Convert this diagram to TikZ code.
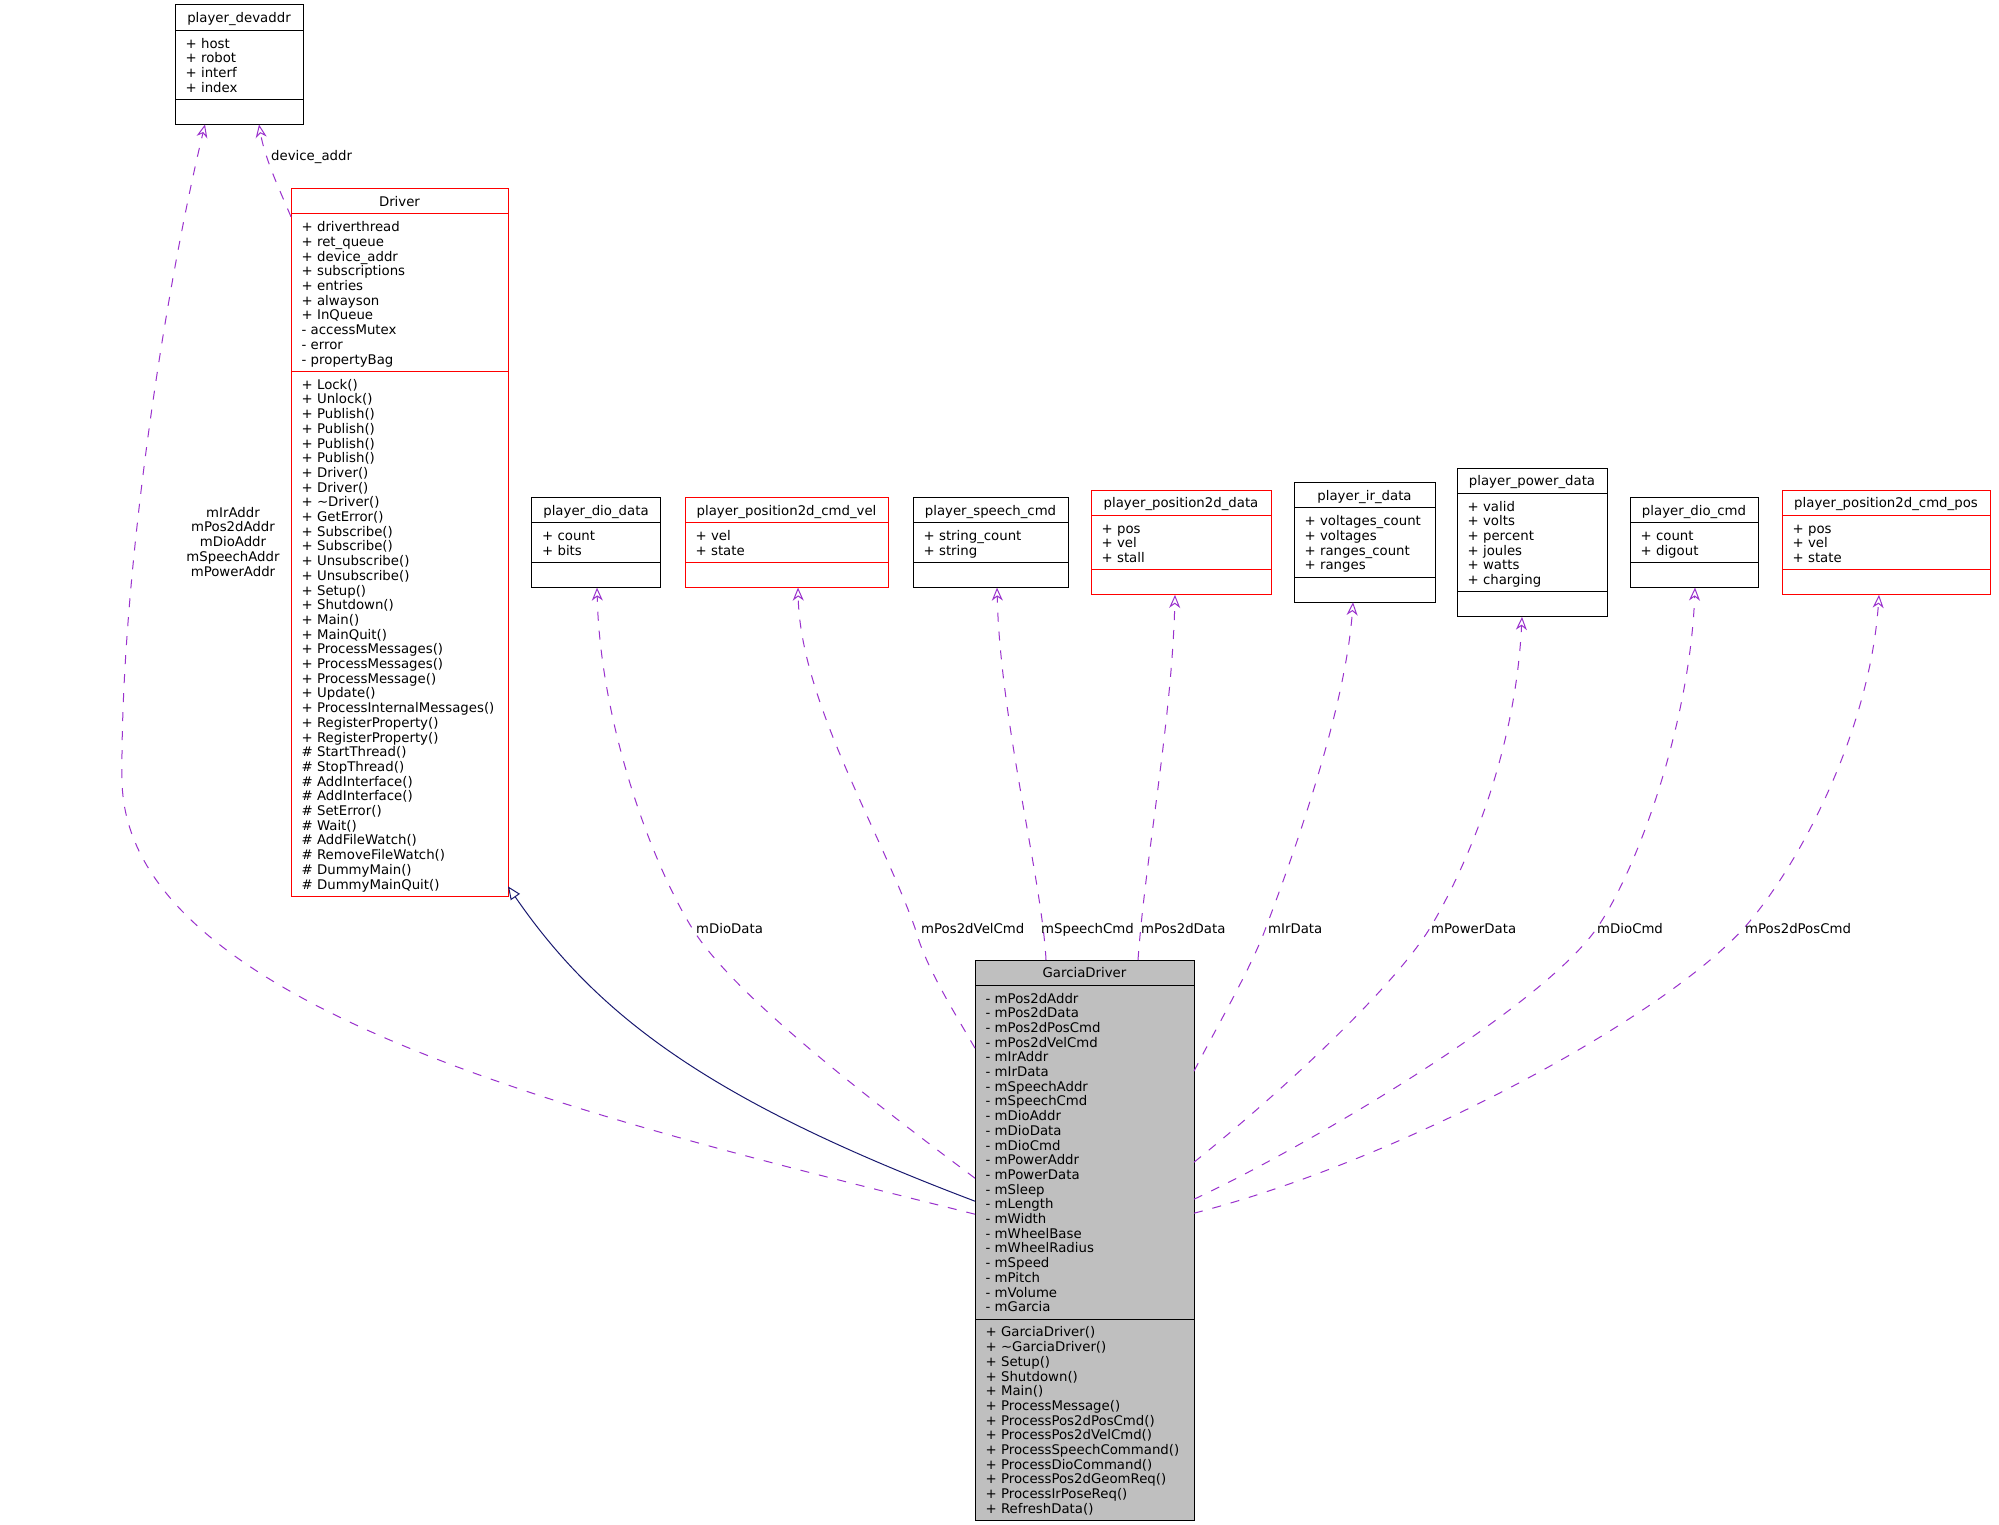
\documentclass[tikz,border=0pt]{standalone}
\usepackage{fontspec}
\setmainfont{DejaVu Sans}
\usetikzlibrary{arrows.meta,calc}
\definecolor{cuse}{HTML}{9A32CD}
\definecolor{cinh}{HTML}{191970}
\definecolor{cgd}{HTML}{BFBFBF}
\definecolor{cred}{HTML}{FF0000}
\newcommand\uln[1]{\rule[-2.1pt]{0pt}{14.7pt}\smash{#1}}
\newcommand\umlbox[8]{%
  \node[sect, hdrsect, #5, minimum width=#3pt, text width=#4pt] (#1-h) at #2 {\uln{#6}};
  \node[sect, #5, minimum width=#3pt, text width=#4pt] (#1-a) at (#1-h.south) {#7};
  \node[sect, #5, minimum width=#3pt, text width=#4pt, minimum height=25pt] (#1-m) at (#1-a.south) {#8};
}
\newcommand\umlfont{\fontsize{13.3}{14.7}\selectfont}
\tikzset{
  txt/.style={font=\umlfont},
  sect/.style={txt, draw, line width=1pt, outer sep=0pt, inner xsep=10.5pt, inner ysep=5.25pt, align=left, anchor=north},
  hdrsect/.style={align=center},
  blk/.style={draw=black},
  redb/.style={draw=cred},
  gdb/.style={draw=black, fill=cgd},
  useedge/.style={draw=cuse, line width=1pt, dash pattern=on 9pt off 10pt, -{Stealth[open, length=13pt, width=11pt, inset=4pt]}},
  inhedge/.style={draw=cinh, line width=1pt, -{Triangle[open, length=13pt, width=11pt]}},
  elabel/.style={txt, inner sep=0pt, anchor=base west},
}
\begin{document}
\begin{tikzpicture}[x=1pt, y=-1pt]
\fill[white] (0,0) rectangle (1999,1525);
\useasboundingbox (0,0) rectangle (1999,1525);

% classes
\umlbox{dev}{(239,5)}{128}{107}{blk}{player\_devaddr}{\uln{+ host}\\\uln{+ robot}\\\uln{+ interf}\\\uln{+ index}}{}
\umlbox{drv}{(399.5,188.65)}{217}{196}{redb}{Driver}{\uln{+ driverthread}\\\uln{+ ret\_queue}\\\uln{+ device\_addr}\\\uln{+ subscriptions}\\\uln{+ entries}\\\uln{+ alwayson}\\\uln{+ InQueue}\\\uln{- accessMutex}\\\uln{- error}\\\uln{- propertyBag}}{\uln{+ Lock()}\\\uln{+ Unlock()}\\\uln{+ Publish()}\\\uln{+ Publish()}\\\uln{+ Publish()}\\\uln{+ Publish()}\\\uln{+ Driver()}\\\uln{+ Driver()}\\\uln{+ \textasciitilde Driver()}\\\uln{+ GetError()}\\\uln{+ Subscribe()}\\\uln{+ Subscribe()}\\\uln{+ Unsubscribe()}\\\uln{+ Unsubscribe()}\\\uln{+ Setup()}\\\uln{+ Shutdown()}\\\uln{+ Main()}\\\uln{+ MainQuit()}\\\uln{+ ProcessMessages()}\\\uln{+ ProcessMessages()}\\\uln{+ ProcessMessage()}\\\uln{+ Update()}\\\uln{+ ProcessInternalMessages()}\\\uln{+ RegisterProperty()}\\\uln{+ RegisterProperty()}\\\uln{\# StartThread()}\\\uln{\# StopThread()}\\\uln{\# AddInterface()}\\\uln{\# AddInterface()}\\\uln{\# SetError()}\\\uln{\# Wait()}\\\uln{\# AddFileWatch()}\\\uln{\# RemoveFileWatch()}\\\uln{\# DummyMain()}\\\uln{\# DummyMainQuit()}}
\umlbox{dio}{(596,497.5)}{129}{108}{blk}{player\_dio\_data}{\uln{+ count}\\\uln{+ bits}}{}
\umlbox{vel}{(786.5,497.5)}{203}{182}{redb}{player\_position2d\_cmd\_vel}{\uln{+ vel}\\\uln{+ state}}{}
\umlbox{sp}{(990.5,497.5)}{155}{134}{blk}{player\_speech\_cmd}{\uln{+ string\_count}\\\uln{+ string}}{}
\umlbox{p2d}{(1181,490.1)}{180}{159}{redb}{player\_position2d\_data}{\uln{+ pos}\\\uln{+ vel}\\\uln{+ stall}}{}
\umlbox{ir}{(1364.5,482.75)}{141}{120}{blk}{player\_ir\_data}{\uln{+ voltages\_count}\\\uln{+ voltages}\\\uln{+ ranges\_count}\\\uln{+ ranges}}{}
\umlbox{pw}{(1532,468)}{150}{129}{blk}{player\_power\_data}{\uln{+ valid}\\\uln{+ volts}\\\uln{+ percent}\\\uln{+ joules}\\\uln{+ watts}\\\uln{+ charging}}{}
\umlbox{dcmd}{(1694,497.5)}{128}{107}{blk}{player\_dio\_cmd}{\uln{+ count}\\\uln{+ digout}}{}
\umlbox{pos}{(1886,490.1)}{208}{187}{redb}{player\_position2d\_cmd\_pos}{\uln{+ pos}\\\uln{+ vel}\\\uln{+ state}}{}
\umlbox{gd}{(1084.5,960)}{219}{198}{gdb}{GarciaDriver}{\uln{- mPos2dAddr}\\\uln{- mPos2dData}\\\uln{- mPos2dPosCmd}\\\uln{- mPos2dVelCmd}\\\uln{- mIrAddr}\\\uln{- mIrData}\\\uln{- mSpeechAddr}\\\uln{- mSpeechCmd}\\\uln{- mDioAddr}\\\uln{- mDioData}\\\uln{- mDioCmd}\\\uln{- mPowerAddr}\\\uln{- mPowerData}\\\uln{- mSleep}\\\uln{- mLength}\\\uln{- mWidth}\\\uln{- mWheelBase}\\\uln{- mWheelRadius}\\\uln{- mSpeed}\\\uln{- mPitch}\\\uln{- mVolume}\\\uln{- mGarcia}}{\uln{+ GarciaDriver()}\\\uln{+ \textasciitilde GarciaDriver()}\\\uln{+ Setup()}\\\uln{+ Shutdown()}\\\uln{+ Main()}\\\uln{+ ProcessMessage()}\\\uln{+ ProcessPos2dPosCmd()}\\\uln{+ ProcessPos2dVelCmd()}\\\uln{+ ProcessSpeechCommand()}\\\uln{+ ProcessDioCommand()}\\\uln{+ ProcessPos2dGeomReq()}\\\uln{+ ProcessIrPoseReq()}\\\uln{+ RefreshData()}}

% edges
\draw[useedge] ($(gd-a.north west)+(0,229)$) .. controls (600,1120) and (125,1010) .. (122,780)
  .. controls (120,580) and (165,290) .. ($(dev-m.south west)+(30,0)$);
\draw[useedge] ($(drv-a.north west)+(0,3)$) .. controls (282,195) and (265,160) .. ($(dev-m.south west)+(84,0)$);
\draw[inhedge] ($(gd-a.north west)+(0,216)$) .. controls (716,1103) and (600,1020) .. ($(drv-m.south east)+(0,-10)$);
\draw[useedge] ($(gd-a.north west)+(0,193)$) .. controls (850,1085) and (730,990) .. (692,928)
  .. controls (650,860) and (600,720) .. ($(dio-m.south)+(1,0)$);
\draw[useedge] ($(gd-a.north west)+(0,63)$) .. controls (950,1005) and (925,965) .. (915,928)
  .. controls (880,830) and (800,700) .. ($(vel-m.south)+(11.5,0)$);
\draw[useedge] ($(gd-h.north west)+(71,0)$) .. controls (1042,880) and (1000,720) .. ($(sp-m.south)+(6.5,0)$);
\draw[useedge] ($(gd-h.north west)+(163,0)$) .. controls (1145,860) and (1172,720) .. ($(p2d-m.south)+(-6,0)$);
\draw[useedge] ($(gd-a.north east)+(0,86)$) .. controls (1215,1030) and (1250,970) .. (1265,930)
  .. controls (1280,890) and (1345,720) .. ($(ir-m.south)+(-11.5,0)$);
\draw[useedge] ($(gd-a.north east)+(0,177)$) .. controls (1290,1085) and (1395,985) .. (1430,928)
  .. controls (1462,875) and (1515,760) .. ($(pw-m.south)+(-10,0)$);
\draw[useedge] ($(gd-a.north east)+(0,214)$) .. controls (1300,1150) and (1540,1010) .. (1597,928)
  .. controls (1640,865) and (1690,720) .. ($(dcmd-m.south)+(1,0)$);
\draw[useedge] ($(gd-a.north east)+(0,228)$) .. controls (1400,1160) and (1660,1020) .. (1744,928)
  .. controls (1800,865) and (1870,730) .. ($(pos-m.south)+(-7,0)$);

% labels
\node[txt, align=center, inner sep=0pt, anchor=north] (lbl-addr) at (233,504.4) {\uln{mIrAddr}\\\uln{mPos2dAddr}\\\uln{mDioAddr}\\\uln{mSpeechAddr}\\\uln{mPowerAddr}};
\node[elabel] (lbl-dev) at (271,161) {device\_addr};
\node[elabel] (lbl-dio) at (696,933) {mDioData};
\node[elabel] (lbl-vel) at (921,933) {mPos2dVelCmd};
\node[elabel] (lbl-sp) at (1041,933) {mSpeechCmd};
\node[elabel] (lbl-p2d) at (1141,933) {mPos2dData};
\node[elabel] (lbl-ir) at (1268,933) {mIrData};
\node[elabel] (lbl-pw) at (1431,933) {mPowerData};
\node[elabel] (lbl-dcmd) at (1597,933) {mDioCmd};
\node[elabel] (lbl-pos) at (1745,933) {mPos2dPosCmd};
\end{tikzpicture}
\end{document}
